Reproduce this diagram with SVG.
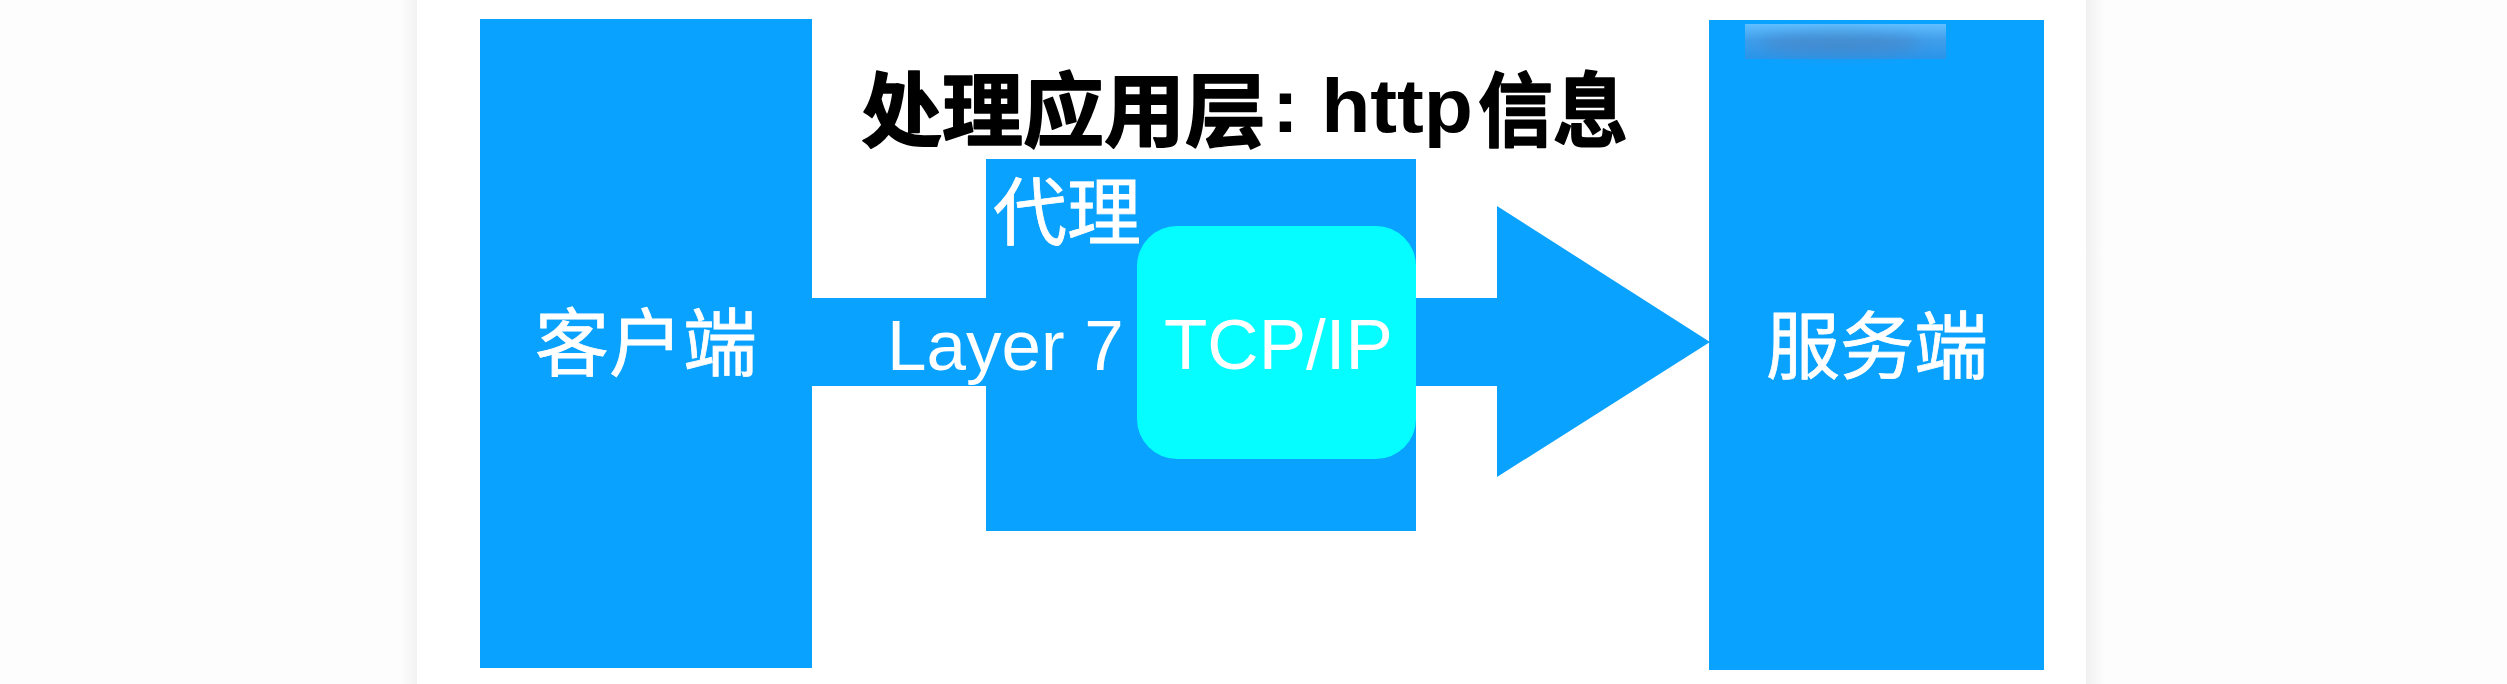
<svg xmlns="http://www.w3.org/2000/svg" width="2507" height="684" viewBox="0 0 2507 684">
  <style>
    .box { fill: #0aa2ff; }
    .lbl { fill: #ffffff; stroke: #ffffff; stroke-width: 0.8px; font-family: "Noto Sans CJK SC", "Noto Sans", sans-serif; font-size: 74px; }
    .lat { fill: #ffffff; font-family: "Liberation Sans", Arial, sans-serif; font-size: 71px; }
    .title { fill: #000000; font-family: "Noto Sans CJK SC", "Noto Sans", sans-serif; font-weight: bold; font-size: 81px; }
    .cjkb { stroke: #000000; stroke-width: 1.6px; stroke-linejoin: round; }
  </style>
  <defs>
    <linearGradient id="shL" x1="0" y1="0" x2="1" y2="0">
      <stop offset="0" stop-color="#f2f2f2" stop-opacity="0"/>
      <stop offset="1" stop-color="#f2f2f2" stop-opacity="1"/>
    </linearGradient>
    <linearGradient id="shR" x1="0" y1="0" x2="1" y2="0">
      <stop offset="0" stop-color="#f0f0f0" stop-opacity="1"/>
      <stop offset="1" stop-color="#f0f0f0" stop-opacity="0"/>
    </linearGradient>
    <linearGradient id="wm" x1="0" y1="0" x2="0" y2="1">
      <stop offset="0" stop-color="#70c4ff"/>
      <stop offset="0.45" stop-color="#4a9de6"/>
      <stop offset="1" stop-color="#2f92e6"/>
    </linearGradient>
    <filter id="blur" x="-20%" y="-50%" width="140%" height="200%">
      <feGaussianBlur stdDeviation="7"/>
    </filter>
  </defs>

  <!-- page background -->
  <rect x="0" y="0" width="2507" height="684" fill="#fdfdfd"/>
  <rect x="400" y="0" width="17" height="684" fill="url(#shL)"/>
  <rect x="2086" y="0" width="18" height="684" fill="url(#shR)"/>
  <rect x="417" y="0" width="1669" height="684" fill="#ffffff"/>

  <g id="client">
    <rect class="box" x="480" y="19" width="332" height="649"/>
    <text class="lbl" x="646" y="370" text-anchor="middle">客户端</text>
  </g>

  <g id="server">
    <rect class="box" x="1709" y="20" width="335" height="650"/>
    <rect x="1745" y="24" width="201" height="35" fill="url(#wm)" opacity="0.85"/>
    <ellipse cx="1840" cy="44" rx="80" ry="11" fill="#4a82c0" opacity="0.6" filter="url(#blur)"/>
    <text class="lbl" x="1877" y="373" text-anchor="middle">服务端</text>
  </g>

  <g id="connectors">
    <polygon class="box" points="800,298 1497,298 1497,206 1710,342 1497,477 1497,386 800,386"/>
  </g>

  <g id="title">
    <text class="title" x="861" y="140"><tspan class="cjkb">处理应用层</tspan><tspan x="1272" dy="-8" font-family="'Liberation Sans', Arial, sans-serif" font-size="76" textLength="201" lengthAdjust="spacingAndGlyphs">: http</tspan><tspan class="cjkb" x="1478" dy="8" textLength="150" lengthAdjust="spacingAndGlyphs">信息</tspan></text>
  </g>

  <g id="proxy">
    <rect class="box" x="986" y="159" width="430" height="372"/>
    <text class="lbl" x="993" y="239">代理</text>
  </g>

  <g id="tcpip">
    <rect x="1137" y="226" width="279" height="233" rx="40" ry="40" fill="#05fdff"/>
    <text class="lat" x="1164" y="369">TCP/IP</text>
  </g>

  <g id="layer7">
    <text class="lat" x="887" y="370">Layer 7</text>
  </g>
</svg>
